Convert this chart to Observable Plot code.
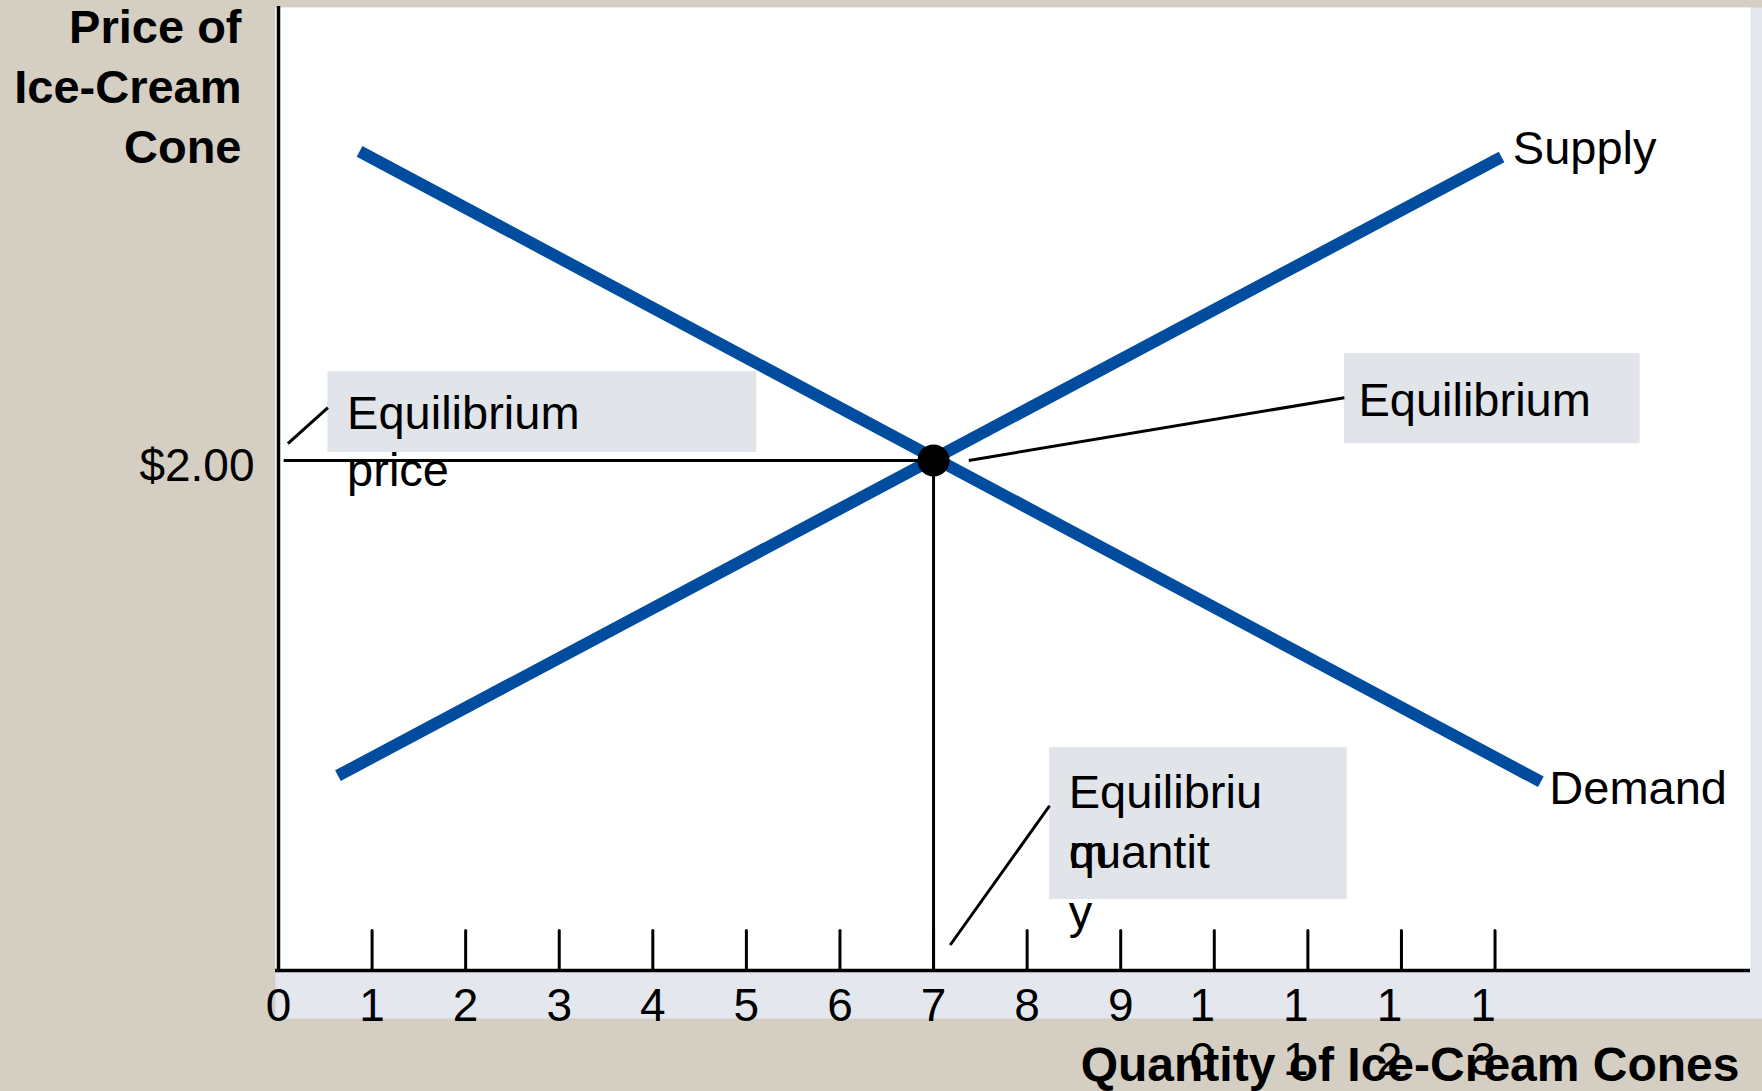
<!DOCTYPE html>
<html>
<head>
<meta charset="utf-8">
<script src="https://cdn.jsdelivr.net/npm/d3@7"></script>
<script src="https://cdn.jsdelivr.net/npm/@observablehq/plot@0.6"></script>
<style>
html, body { margin: 0; padding: 0; background: #d5cec3; }
#chart svg { display: block; }
</style>
</head>
<body>
<div id="chart"></div>
<script>
// ---- Curves (quantity of cones, price in dollars) ----
const demandQ = [0.866, 13.49];
const demandP = [3.212, 0.74];
const supplyQ = [0.635, 13.07];
const supplyP = [0.764, 3.19];

// ---- Equilibrium ----
const eqQ = 7;
const eqP = 2.00;

// ---- Axis ticks ----
const xTicks = [0, 1, 2, 3, 4, 5, 6, 7, 8, 9, 10, 11, 12, 13];
const xTickLabels = ["0", "1", "2", "3", "4", "5", "6", "7", "8", "9", "10", "11", "12", "13"];
const yTicks = [2];
const yTickLabels = ["$2.00"];

// ---- Axis titles ----
const yTitle = "Price of\nIce-Cream\nCone";
const xTitle = "Quantity of Ice-Cream Cones";

// ---- Curve labels ----
const curveNames = ["Supply", "Demand"];
const curveLabelQ = [13.19, 13.58];
const curveLabelP = [3.222, 0.713];

// ---- Annotation callouts ----
const noteText = ["Equilibrium\nprice", "Equilibrium", "Equilibriu\nquantit\ny"];
const noteBoxQ1 = [0.528, 11.39, 8.24];
const noteBoxQ2 = [5.111, 14.55, 11.42];
const noteBoxP1 = [2.031, 2.066, 0.278];
const noteBoxP2 = [2.348, 2.419, 0.874];
const noteTextQ = [0.733, 11.54, 8.445];
const noteTextP = [2.256, 2.305, 0.769];
const leaderQ1 = [0.10, 7.377, 7.178];
const leaderP1 = [2.066, 2.0, 0.100];
const leaderQ2 = [0.528, 11.39, 8.24];
const leaderP2 = [2.207, 2.246, 0.646];
// stray wrapped letter overlapping line 2 of the quantity note
const strayText = ["m"];
const strayQ = [8.445];
const strayP = [0.534];

// ---- Build tables ----
const demand = demandQ.map((q, i) => ({q, p: demandP[i]}));
const supply = supplyQ.map((q, i) => ({q, p: supplyP[i]}));
const ticks = xTicks.map((q, i) => ({q, label: xTickLabels[i]}));
const yt = yTicks.map((p, i) => ({p, label: yTickLabels[i]}));
const curveLabels = curveNames.map((name, i) => ({name, q: curveLabelQ[i], p: curveLabelP[i]}));
const notes = noteText.map((t, i) => ({
  t, q1: noteBoxQ1[i], q2: noteBoxQ2[i], p1: noteBoxP1[i], p2: noteBoxP2[i],
  tq: noteTextQ[i], tp: noteTextP[i],
  lq1: leaderQ1[i], lp1: leaderP1[i], lq2: leaderQ2[i], lp2: leaderP2[i]
}));
const stray = strayText.map((t, i) => ({t, q: strayQ[i], p: strayP[i]}));

const FONT = "'Liberation Sans', Arial, Helvetica, sans-serif";
const BLUE = "#004c9e";
const FS = 47;
const tickShape = {draw(ctx, l) { ctx.moveTo(0, 0); ctx.lineTo(0, -l); }};
// Plot scales the "top" line anchor by lineHeight; compensate so the first baseline sits 0.71em below the anchor
const topFix = (lh, fs) => -0.71 * (lh - 1) * fs;

const LH_NOTE = 60 / FS, LH_PRICE = 57 / FS, LH_TICK = 54 / 46;

const chart = Plot.plot({
  width: 1762,
  height: 1091,
  marginLeft: 278,
  marginRight: 12,
  marginTop: 7,
  marginBottom: 121,
  x: {domain: [0, 15.73], axis: null},
  y: {domain: [0, 3.776], axis: null},
  style: {background: "#d5cec3", fontFamily: FONT, color: "black", overflow: "visible"},
  marks: [
    // slide panels
    Plot.frame({fill: "#e4e7ee", stroke: "none", insetLeft: -3, insetRight: -12, insetBottom: -48}),
    Plot.frame({fill: "white", stroke: "none", insetLeft: -3}),
    // demand and supply
    Plot.line(demand, {x: "q", y: "p", stroke: BLUE, strokeWidth: 12, strokeLinecap: "butt"}),
    Plot.line(supply, {x: "q", y: "p", stroke: BLUE, strokeWidth: 12, strokeLinecap: "butt"}),
    // equilibrium guides
    Plot.ruleY([eqP], {x1: leaderQ1[0] - 0.04, x2: eqQ, stroke: "black", strokeWidth: 3}),
    Plot.ruleX([eqQ], {y1: 0, y2: eqP, stroke: "black", strokeWidth: 3}),
    Plot.dot([{q: eqQ, p: eqP}], {x: "q", y: "p", r: 16, fill: "black", stroke: "none"}),
    // axes
    Plot.ruleY([0], {stroke: "black", strokeWidth: 3.5, insetLeft: -3}),
    Plot.ruleX([0], {stroke: "black", strokeWidth: 3.5, insetTop: -1, insetBottom: -2}),
    Plot.vector(ticks.filter(d => d.q > 0), {
      x: "q", y: 0, length: 40, anchor: "start", rotate: 0,
      shape: tickShape, stroke: "black", strokeWidth: 3
    }),
    // tick labels
    Plot.text(ticks.filter(d => d.label.length === 1), {
      x: "q", y: 0, text: "label", fontSize: 46, lineAnchor: "top", dy: 17.5, textAnchor: "middle"
    }),
    Plot.text(ticks.filter(d => d.label.length > 1), {
      x: "q", y: 0, text: d => d.label.split("").join("\n"), fontSize: 46,
      lineAnchor: "top", dy: 17.5 + topFix(LH_TICK, 46), dx: -12, textAnchor: "middle", lineHeight: LH_TICK
    }),
    Plot.text(yt, {
      x: 0, y: "p", text: "label", fontSize: 46, textAnchor: "end", lineAnchor: "middle", dx: -24, dy: 6
    }),
    // axis titles
    Plot.text([yTitle], {
      text: d => d, frameAnchor: "top-left", dx: -37, dy: 2.6 + topFix(LH_NOTE, FS), textAnchor: "end",
      lineAnchor: "top", fontWeight: "bold", fontSize: FS, lineHeight: LH_NOTE
    }),
    Plot.text([xTitle], {
      text: d => d, frameAnchor: "bottom-right", dx: -11, dy: 110, textAnchor: "end",
      lineAnchor: "bottom", fontWeight: "bold", fontSize: 48
    }),
    // curve labels
    Plot.text(curveLabels, {
      x: "q", y: "p", text: "name", fontSize: FS, textAnchor: "start", lineAnchor: "middle"
    }),
    // callouts
    Plot.rect(notes, {x1: "q1", x2: "q2", y1: "p1", y2: "p2", fill: "#e1e4e9"}),
    Plot.link(notes, {x1: "lq1", y1: "lp1", x2: "lq2", y2: "lp2", stroke: "black", strokeWidth: 3}),
    Plot.text(notes.slice(0, 1), {
      x: "tq", y: "tp", text: "t", fontSize: FS, textAnchor: "start", lineAnchor: "top",
      lineHeight: LH_PRICE, dy: topFix(LH_PRICE, FS)
    }),
    Plot.text(notes.slice(1), {
      x: "tq", y: "tp", text: "t", fontSize: FS, textAnchor: "start", lineAnchor: "top",
      lineHeight: LH_NOTE, dy: topFix(LH_NOTE, FS)
    }),
    Plot.text(stray, {
      x: "q", y: "p", text: "t", fontSize: FS, textAnchor: "start", lineAnchor: "top"
    })
  ]
});

document.getElementById("chart").appendChild(chart);
</script>
</body>
</html>
